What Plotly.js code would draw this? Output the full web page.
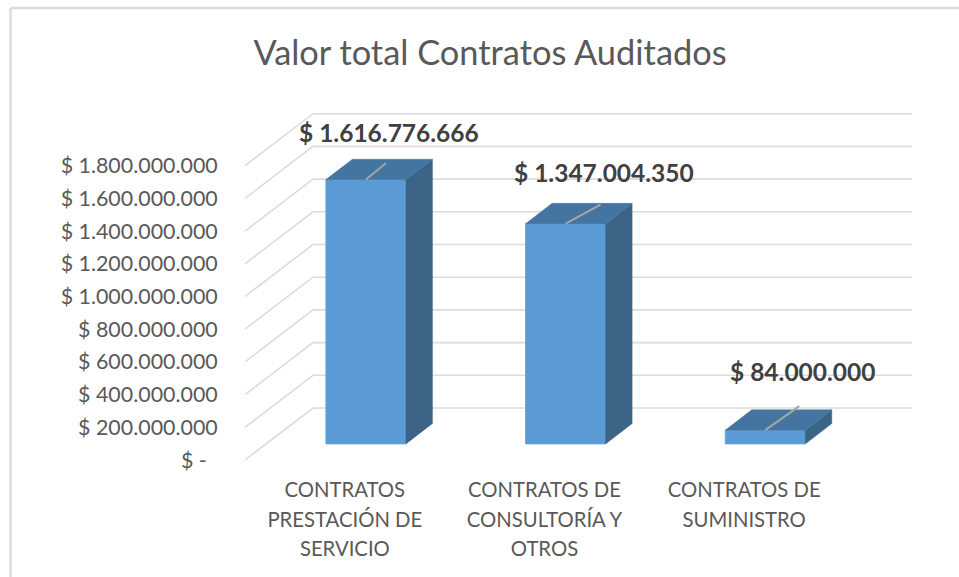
<!DOCTYPE html>
<html><head><meta charset="utf-8">
<script src="https://cdn.plot.ly/plotly-3.0.1.min.js"></script>
<style>html,body{margin:0;padding:0;background:#fff}#c{width:959px;height:577px}</style>
</head><body><div id="c"></div>
<script>
const chartTitle = 'Valor total Contratos Auditados';
const categories = [['CONTRATOS','PRESTACIÓN DE','SERVICIO'],['CONTRATOS DE','CONSULTORÍA Y','OTROS'],['CONTRATOS DE','SUMINISTRO']];
const values = [1616776666, 1347004350, 84000000];
const valueLabels = ['$ 1.616.776.666','$ 1.347.004.350','$ 84.000.000'];
const tickValues = [0,200000000,400000000,600000000,800000000,1000000000,1200000000,1400000000,1600000000,1800000000];
const tickLabels = ['$ -\u00a0\u00a0','$ 200.000.000','$ 400.000.000','$ 600.000.000','$ 800.000.000','$ 1.000.000.000','$ 1.200.000.000','$ 1.400.000.000','$ 1.600.000.000','$ 1.800.000.000'];

// pseudo-3D projection, in axis units
const DX = 0.3406, DY = 3.18e8, dFront = 0.31, dBack = 0.70, halfW = 0.2003;
const labelShift = [[23,47],[38,51],[37,59]];
const leaderEnd = [[0.10,1.0e8],[0.175,1.16e8],[0.17,1.47e8]];
const font = 'Lato, "Open Sans", sans-serif';

const idx = categories.map((_, i) => i);
const px = (x, d) => x + d * DX, py = (v, d) => v + d * DY;

// back wall + left wall gridlines
const shapes = tickValues.map(v => ({
  type:'path', layer:'below', xref:'x', yref:'y',
  path:`M ${px(-0.5,0)} ${py(v,0)} L ${px(-0.5,1)} ${py(v,1)} L ${px(2.5,1)} ${py(v,1)}`,
  line:{color:'#dcdcdc', width:1.6}
}));
// chart frame
shapes.push({type:'line',xref:'paper',yref:'paper',x0:-0.3479,x1:-0.3479,y0:1.2556,y1:-0.325,line:{color:'#dcdcdc',width:2.5}});
shapes.push({type:'line',xref:'paper',yref:'paper',x0:-0.3479,x1:1.0593,y0:1.2556,y1:1.2556,line:{color:'#dcdcdc',width:2.5}});

const poly = (fn, color) => {
  const xs = [], ys = [];
  idx.forEach(i => { fn(i).forEach(p => { xs.push(p[0]); ys.push(p[1]); }); xs.push(null); ys.push(null); });
  return {type:'scatter',mode:'lines',x:xs,y:ys,fill:'toself',fillcolor:color,line:{color:color,width:0.5},hoverinfo:'skip',showlegend:false};
};
const side = poly(i => {
  const x = i + halfW, v = values[i];
  return [[px(x,dFront),py(0,dFront)],[px(x,dBack),py(0,dBack)],[px(x,dBack),py(v,dBack)],[px(x,dFront),py(v,dFront)],[px(x,dFront),py(0,dFront)]];
}, '#3b6487');
const top3d = poly(i => {
  const a = i - halfW, b = i + halfW, v = values[i];
  return [[px(a,dFront),py(v,dFront)],[px(b,dFront),py(v,dFront)],[px(b,dBack),py(v,dBack)],[px(a,dBack),py(v,dBack)],[px(a,dFront),py(v,dFront)]];
}, '#4474a0');
const front = {
  type:'bar', x: idx.map(i => px(i,dFront)), y: values, base: idx.map(() => py(0,dFront)),
  width: 2*halfW, marker:{color:'#5b9bd5', line:{color:'#6aa5da', width:1}}, hoverinfo:'skip', showlegend:false
};
const lx = [], ly = [];
idx.forEach(i => {
  lx.push(px(i,dFront), px(i,dFront)+leaderEnd[i][0], null);
  ly.push(py(values[i],dFront), py(values[i],dFront)+leaderEnd[i][1], null);
});
const leaders = {type:'scatter',mode:'lines',x:lx,y:ly,line:{color:'#a6a6a6',width:2},hoverinfo:'skip',showlegend:false};

const annotations = idx.map(i => ({
  xref:'x', yref:'y', x:px(i,dFront), y:py(values[i],dFront),
  xshift:labelShift[i][0], yshift:labelShift[i][1],
  text:'<b>'+valueLabels[i]+'</b>', showarrow:false, xanchor:'center', yanchor:'middle',
  font:{family:font,size:24.5,color:'#404040'}
}));

const layout = {
  width:959, height:577, paper_bgcolor:'#fff', plot_bgcolor:'rgba(0,0,0,0)',
  margin:{l:245,r:40,t:100,b:117}, showlegend:false, hovermode:false, bargap:0,
  title:{text:chartTitle, x:490/959, xanchor:'center', y:1-53/577, yanchor:'middle', font:{family:font,size:34.4,color:'#595959'}},
  xaxis:{range:[-0.5,2.8756], tickmode:'array', tickvals:idx,
    ticktext:categories.map(ls => ls.map(l => `<span style="font-size:20.3px">${l}</span>`).join('<br>')),
    tickfont:{family:font,size:23,color:'#595959'}, showgrid:false, zeroline:false, showline:false,
    ticks:'outside', ticklen:8, tickcolor:'rgba(0,0,0,0)'},
  yaxis:{range:[0,2.2018e9], tickmode:'array', tickvals:tickValues, ticktext:tickLabels,
    tickfont:{family:font,size:21.4,color:'#595959'}, showgrid:false, zeroline:false, showline:false,
    ticks:'outside', ticklen:22, tickcolor:'rgba(0,0,0,0)'},
  shapes, annotations
};
Plotly.newPlot('c',[front,side,top3d,leaders],layout,{displayModeBar:false,staticPlot:true});
</script></body></html>
